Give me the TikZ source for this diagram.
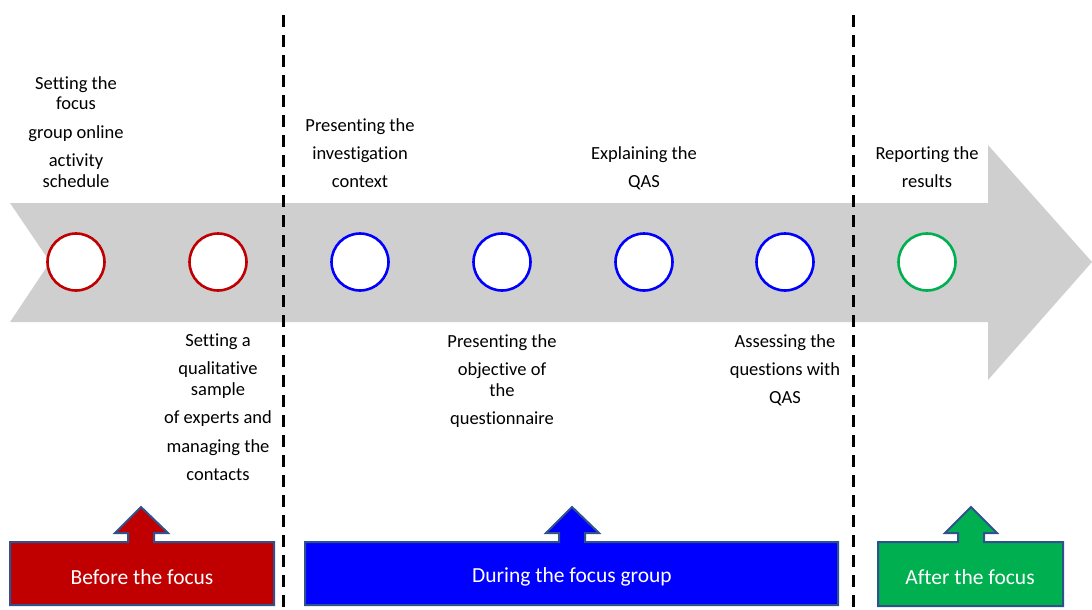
\documentclass[tikz,border=0pt]{standalone}
\usepackage{fontspec}
\setmainfont[Ligatures=NoCommon]{Carlito}
\definecolor{arrowgrey}{HTML}{CFCFCF}
\definecolor{cred}{HTML}{C00000}
\definecolor{cblue}{HTML}{0000FF}
\definecolor{cgreen}{HTML}{00B050}
\definecolor{outlineblue}{HTML}{2F528F}
\tikzset{
  stage/.style={circle, draw=#1, line width=2.6pt, fill=white, minimum size=57pt, inner sep=0pt},
  lbl/.style={anchor=north, align=center, inner sep=0pt, font=\fontsize{18.5}{28}\selectfont},
  phase/.style={fill=#1, draw=outlineblue, line width=2pt, line join=miter},
  phasetxt/.style={text=white, font=\fontsize{21.5}{24}\selectfont, inner sep=0pt},
  divider/.style={line width=3pt, dash pattern=on 12pt off 8pt}
}
\begin{document}
\begin{tikzpicture}[x=1pt, y=-1pt]
\useasboundingbox (0,0) rectangle (1092,610);
% big grey arrow
\fill[arrowgrey] (10,203) -- (988,203) -- (988,145) -- (1092,262) -- (988,380) -- (988,322) -- (10,322) -- (50,262) -- cycle;
% dividers
\coordinate (d1t) at (283,15); \coordinate (d1b) at (283,610);
\coordinate (d2t) at (853,15); \coordinate (d2b) at (853,610);
\draw[divider] (d1t) -- (d1b);
\draw[divider] (d2t) -- (d2b);
% circles
\node[stage=cred] (c1) at (76,262) {};
\node[stage=cred] (c2) at (218,262) {};
\node[stage=cblue] (c3) at (360,262) {};
\node[stage=cblue] (c4) at (502,262) {};
\node[stage=cblue] (c5) at (644,262) {};
\node[stage=cblue] (c6) at (785,262) {};
\node[stage=cgreen] (c7) at (927,262) {};
% labels
\node[lbl] (t1) at (76,76) {Setting the\\[-8pt]focus\\[1pt]group online\\activity\\[-7pt]schedule};
\node[lbl] (t3) at (360,118) {Presenting the\\investigation\\context};
\node[lbl] (t5) at (644,146) {Explaining the\\QAS};
\node[lbl] (t7) at (927,146) {Reporting the\\results};
\node[lbl] (t2) at (218,334) {Setting a\\qualitative\\[-7pt]sample\\of experts and\\[1pt]managing the\\contacts};
\node[lbl] (t4) at (502,334) {Presenting the\\objective of\\[-7pt]the\\questionnaire};
\node[lbl] (t6) at (785,334) {Assessing the\\questions with\\QAS};
% phase boxes
\draw[phase=cred] (10,605) -- (10,542) -- (128,542) -- (128,533) -- (115,533) -- (141,507) -- (168,533) -- (154,533) -- (154,542) -- (274,542) -- (274,605) -- cycle;
\node[phasetxt] (p1) at (142,577) {Before the focus};
\draw[phase=cblue] (305,605) -- (305,542) -- (559,542) -- (559,533) -- (546,533) -- (572,507) -- (599,533) -- (585,533) -- (585,542) -- (838,542) -- (838,605) -- cycle;
\node[phasetxt] (p2) at (572,577) {During the focus group};
\draw[phase=cgreen] (878,606) -- (878,542) -- (958,542) -- (958,533) -- (945,533) -- (971,507) -- (997,533) -- (984,533) -- (984,542) -- (1063,542) -- (1063,606) -- cycle;
\node[phasetxt] (p3) at (970,577) {After the focus};
\end{tikzpicture}
\end{document}
